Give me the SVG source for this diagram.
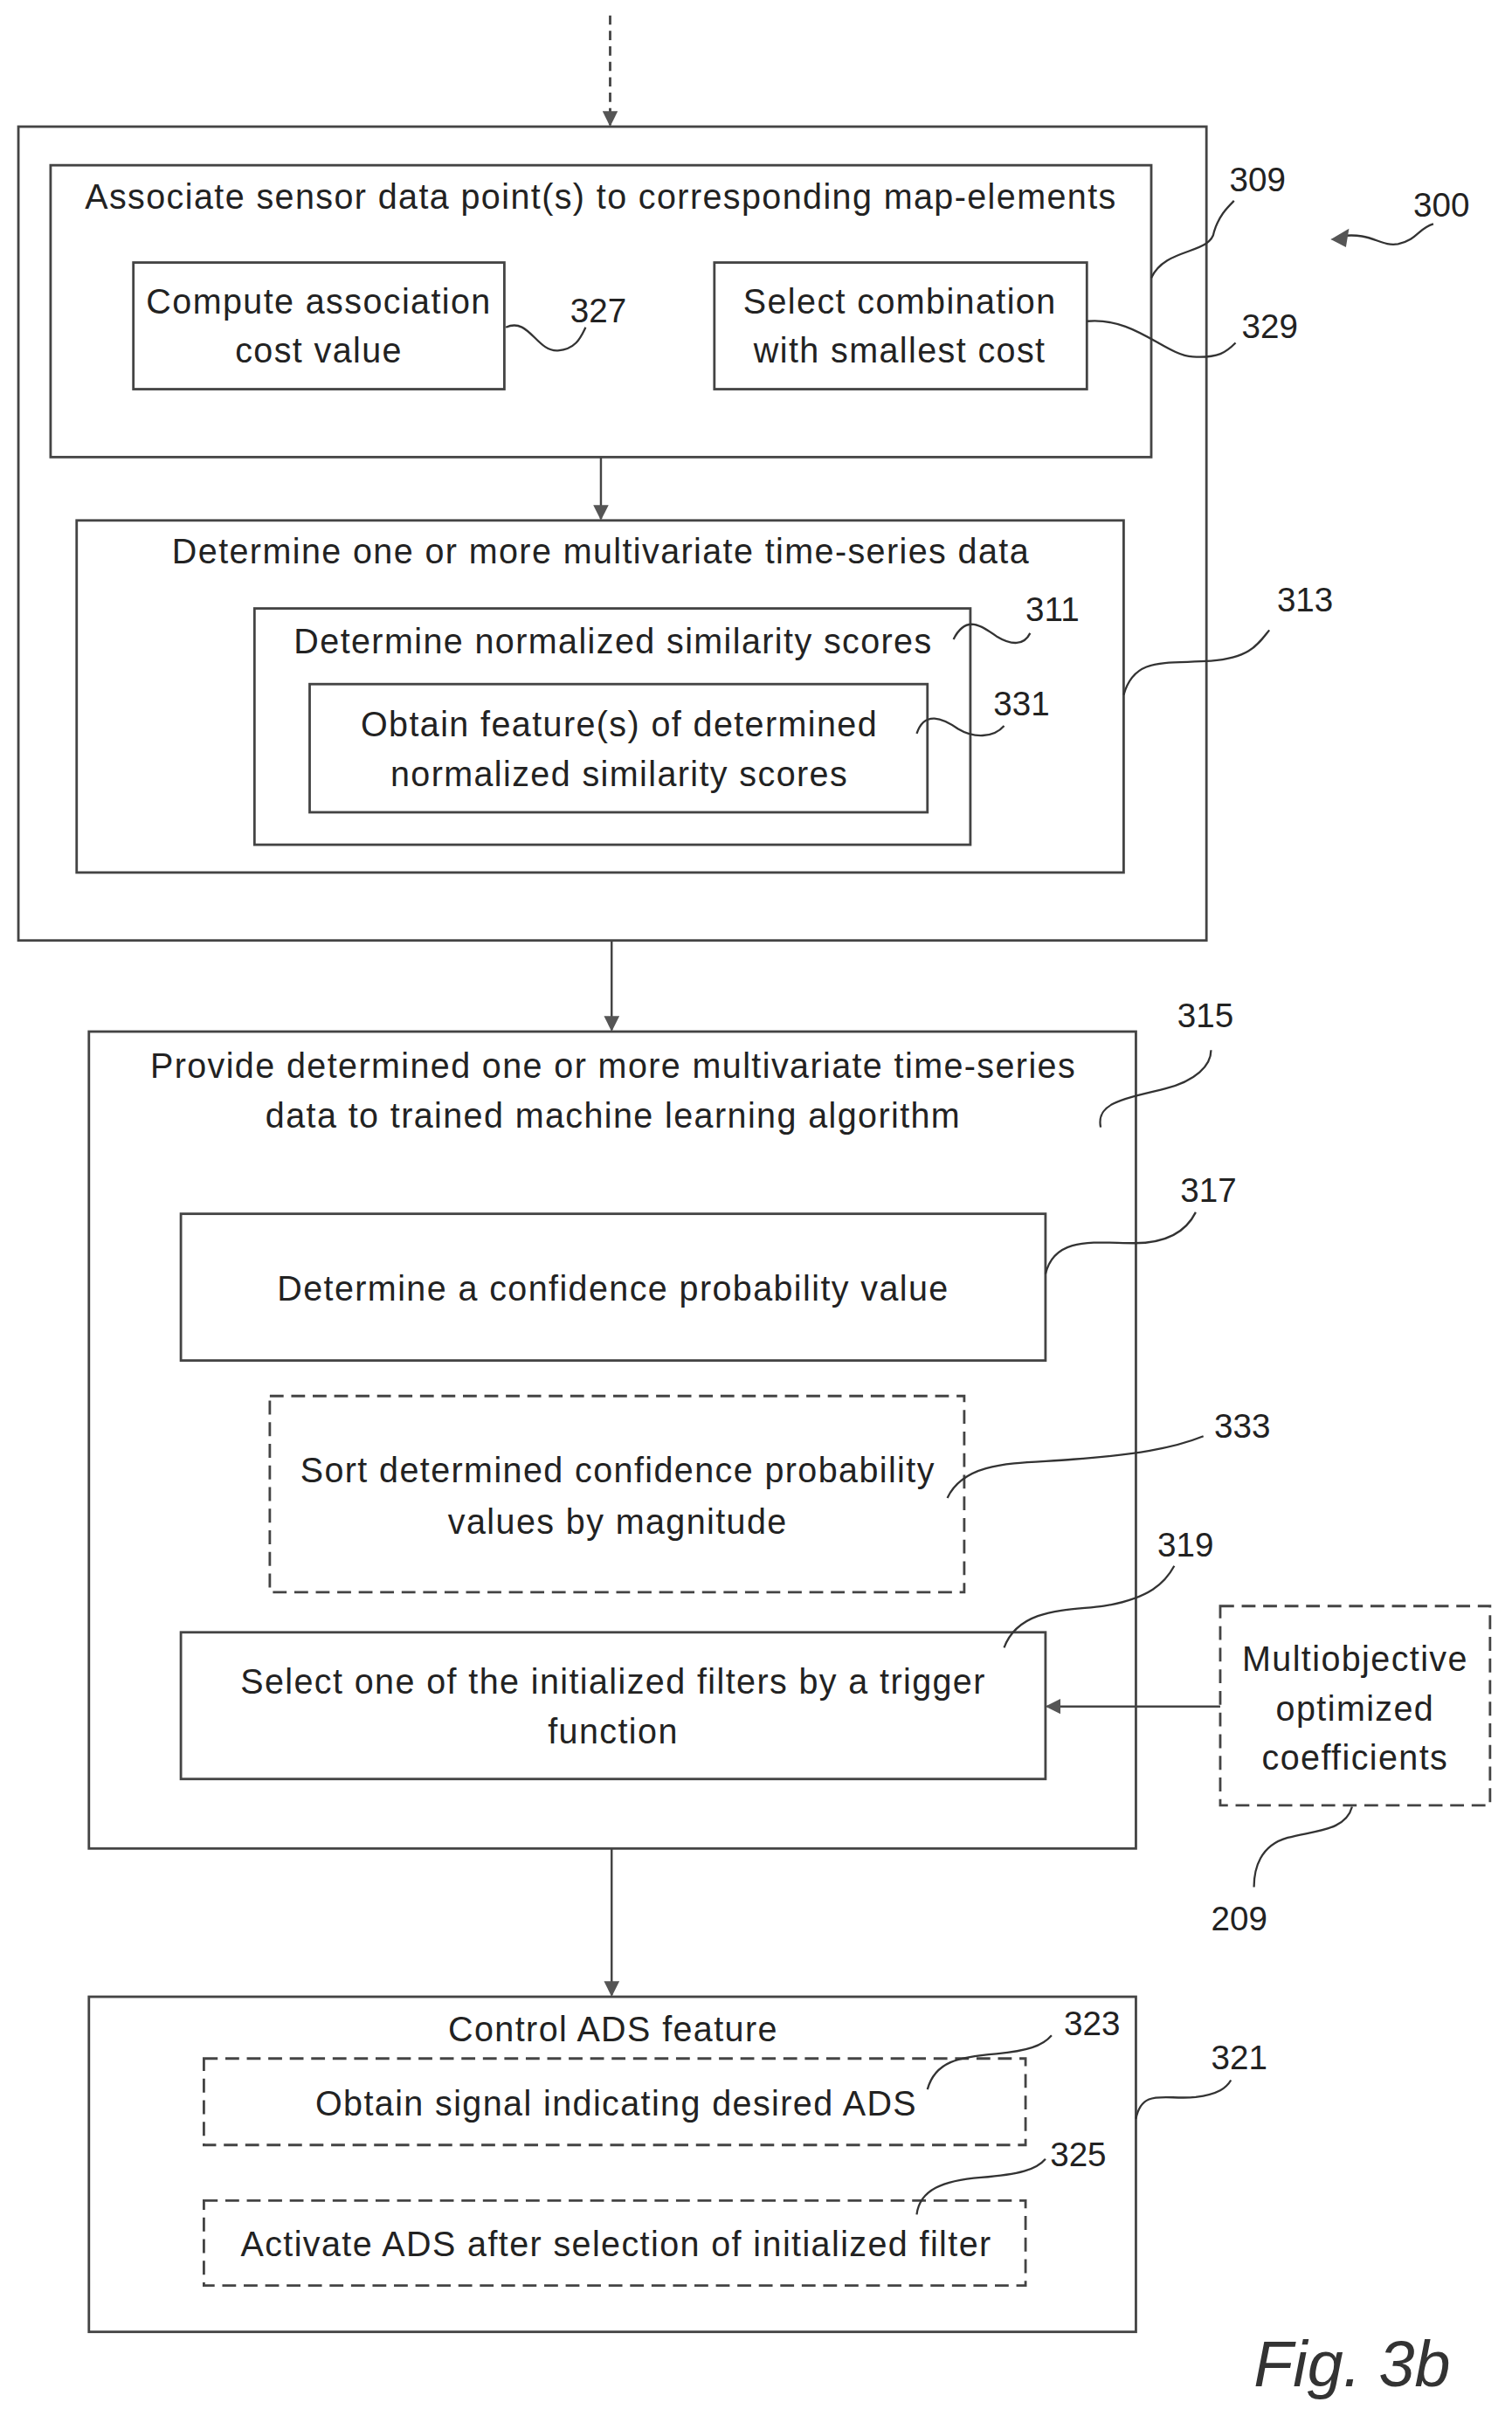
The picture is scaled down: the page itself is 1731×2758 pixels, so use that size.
<svg xmlns="http://www.w3.org/2000/svg" width="1731" height="2758" viewBox="0 0 1731 2758">
<defs>
<style>
.b{fill:none;stroke:#444;stroke-width:1.6}
.d{fill:none;stroke:#444;stroke-width:1.6;stroke-dasharray:9 5}
.l{fill:none;stroke:#333;stroke-width:1.3}
.c{fill:none;stroke:#444;stroke-width:1.4}
text{font-family:"Liberation Sans",Arial,sans-serif;font-size:22.5px;letter-spacing:0.8px;fill:#222;text-anchor:middle}
.n{text-anchor:start;font-size:22px;letter-spacing:0}
</style>
<marker id="a" markerWidth="10" markerHeight="10" refX="9" refY="5" orient="auto" markerUnits="userSpaceOnUse">
<path d="M0,0 L10,5 L0,10 Z" fill="#555"/>
</marker>
</defs>
<rect width="1731" height="2758" fill="#fff"/>
<g transform="scale(1.755,1.768)">
<g id="connectors">
<line class="d" x1="398" y1="10" x2="398" y2="81" marker-end="url(#a)" style="stroke-dasharray:6 4"/>
<line class="c" x1="392" y1="296" x2="392" y2="336" marker-end="url(#a)"/>
<line class="c" x1="399" y1="609" x2="399" y2="667" marker-end="url(#a)"/>
<line class="c" x1="399" y1="1197" x2="399" y2="1292" marker-end="url(#a)"/>
<line class="c" x1="796" y1="1105" x2="683" y2="1105" marker-end="url(#a)"/>
</g>
<g id="n300">
<path class="l" d="M874,153 C895,150 900,160 912,158 C925,155 925,148 935,145"/>
<path d="M868,155 L880,148 L878,160 Z" fill="#555"/>
<text class="n" x="922" y="140">300</text>
</g>
<g id="outer"><rect class="b" x="12" y="82" width="775" height="527"/></g>
<g id="n309">
<rect class="b" x="33" y="107" width="718" height="189"/>
<text x="392" y="135">Associate sensor data point(s) to corresponding map-elements</text>
<path class="l" d="M751,180 C760,160 790,165 792,150 C795,140 800,135 805,130"/>
<text class="n" x="802" y="124">309</text>
</g>
<g id="n327">
<rect class="b" x="87" y="170" width="242" height="82"/>
<text x="208" y="203">Compute association</text>
<text x="208" y="235">cost value</text>
<path class="l" d="M330,212 C345,205 350,228 364,227 C376,226 379,218 382,212"/>
<text class="n" x="372" y="209">327</text>
</g>
<g id="n329">
<rect class="b" x="466" y="170" width="243" height="82"/>
<text x="587" y="203">Select combination</text>
<text x="587" y="235">with smallest cost</text>
<path class="l" d="M709,208 C740,205 760,230 778,231 C795,232 800,228 806,222"/>
<text class="n" x="810" y="219">329</text>
</g>
<g id="n313">
<rect class="b" x="50" y="337" width="683" height="228"/>
<text x="392" y="365">Determine one or more multivariate time-series data</text>
<path class="l" d="M733,450 C740,425 760,430 790,428 C815,426 820,418 828,408"/>
<text class="n" x="833" y="396">313</text>
</g>
<g id="n311">
<rect class="b" x="166" y="394" width="467" height="153"/>
<text x="400" y="423">Determine normalized similarity scores</text>
<path class="l" d="M622,414 C630,398 640,405 650,412 C660,418 668,418 672,410"/>
<text class="n" x="669" y="402">311</text>
</g>
<g id="n331">
<rect class="b" x="202" y="443" width="403" height="83"/>
<text x="404" y="477">Obtain feature(s) of determined</text>
<text x="404" y="509">normalized similarity scores</text>
<path class="l" d="M598,475 C603,460 615,465 625,472 C635,478 648,478 655,470"/>
<text class="n" x="648" y="463">331</text>
</g>
<g id="n315">
<rect class="b" x="58" y="668" width="683" height="529"/>
<text x="400" y="698">Provide determined one or more multivariate time-series</text>
<text x="400" y="730">data to trained machine learning algorithm</text>
<path class="l" d="M718,730 C715,715 730,712 760,705 C780,700 790,690 790,680"/>
<text class="n" x="768" y="665">315</text>
</g>
<g id="n317">
<rect class="b" x="118" y="786" width="564" height="95"/>
<text x="400" y="842">Determine a confidence probability value</text>
<path class="l" d="M682,825 C688,800 715,805 740,805 C765,805 775,795 780,785"/>
<text class="n" x="770" y="778">317</text>
</g>
<g id="n333">
<rect class="d" x="176" y="904" width="453" height="127"/>
<text x="403" y="960">Sort determined confidence probability</text>
<text x="403" y="993">values by magnitude</text>
<path class="l" d="M618,970 C630,945 665,948 700,945 C740,942 765,938 785,930"/>
<text class="n" x="792" y="931">333</text>
</g>
<g id="n319">
<rect class="b" x="118" y="1057" width="564" height="95"/>
<text x="400" y="1097">Select one of the initialized filters by a trigger</text>
<text x="400" y="1129">function</text>
<path class="l" d="M655,1067 C665,1040 700,1043 720,1040 C750,1035 760,1025 766,1014"/>
<text class="n" x="755" y="1008">319</text>
</g>
<g id="n209">
<rect class="d" x="796" y="1040" width="176" height="129"/>
<text x="884" y="1082">Multiobjective</text>
<text x="884" y="1114">optimized</text>
<text x="884" y="1146">coefficients</text>
<path class="l" d="M882,1170 C878,1185 860,1185 840,1190 C822,1195 818,1210 818,1222"/>
<text class="n" x="790" y="1250">209</text>
</g>
<g id="n321">
<rect class="b" x="58" y="1293" width="683" height="217"/>
<text x="400" y="1322">Control ADS feature</text>
<path class="l" d="M741,1372 C745,1352 760,1360 780,1358 C795,1356 800,1352 803,1347"/>
<text class="n" x="790" y="1340">321</text>
</g>
<g id="n323">
<rect class="d" x="133" y="1333" width="536" height="56"/>
<text x="402" y="1370">Obtain signal indicating desired ADS</text>
<path class="l" d="M605,1353 C610,1335 625,1332 650,1330 C670,1328 680,1325 686,1318"/>
<text class="n" x="694" y="1318">323</text>
</g>
<g id="n325">
<rect class="d" x="133" y="1425" width="536" height="55"/>
<text x="402" y="1461">Activate ADS after selection of initialized filter</text>
<path class="l" d="M598,1434 C600,1418 615,1412 640,1410 C665,1408 676,1405 682,1398"/>
<text class="n" x="685" y="1403">325</text>
</g>
<text x="882" y="1545" style="font-size:42px;font-style:italic;fill:#333;letter-spacing:0">Fig. 3b</text>
</g>
</svg>
